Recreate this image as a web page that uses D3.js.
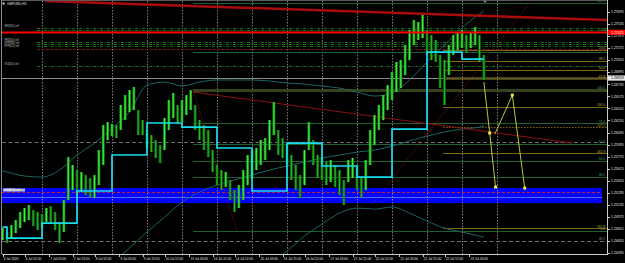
<!DOCTYPE html>
<html lang="en">
<head>
<meta charset="UTF-8">
<title>GBPUSD,H1</title>
<script src="https://d3js.org/d3.v7.min.js"></script>
<style>
  html, body { margin: 0; padding: 0; background: #000; }
  svg { display: block; }
  text { font-family: "Liberation Sans", Arial, sans-serif; }
</style>
</head>
<body>
<div id="chart"></div>
<script>
// ---------------- data ----------------
const symbol = "GBPUSD,H1";

// 3-hour bars; hour 0 = 6 Jul 00:00, weekends removed
const barStartHour = -3, barHours = 3;
const barHigh = [
  1.24826,1.24773,1.24866,1.24932,1.25039,1.25092,1.25132,1.25065,1.25039,1.25012,
  1.25092,1.25118,1.25039,1.24906,1.25198,1.25769,1.25663,1.25596,1.25570,1.25530,
  1.25490,1.25530,1.25862,1.26194,1.26234,1.26207,1.26194,1.26460,1.26592,1.26659,
  1.26699,1.26393,1.26260,1.26128,1.26061,1.25995,1.25928,1.26287,1.26526,1.26619,
  1.26460,1.26526,1.26592,1.26659,1.26460,1.26260,1.26194,1.26128,1.25862,1.25663,
  1.25596,1.25570,1.25464,1.25331,1.25397,1.25596,1.25796,1.25862,1.25889,1.25995,
  1.26021,1.26260,1.26499,1.26128,1.26021,1.25928,1.25796,1.25663,1.25530,1.25862,
  1.26234,1.25995,1.25796,1.25756,1.25703,1.25729,1.25663,1.25596,1.25464,1.25729,
  1.25756,1.25663,1.25490,1.25729,1.26128,1.26327,1.26460,1.26592,1.26725,1.26898,
  1.27031,1.27057,1.27256,1.27456,1.27588,1.27562,1.27655,1.27456,1.27389,1.27323,
  1.27124,1.27057,1.27256,1.27389,1.27416,1.27456,1.27389,1.27429,1.27495,1.27389,
  1.27124];
const barLow = [
  1.24667,1.24627,1.24693,1.24760,1.24826,1.24906,1.24932,1.24853,1.24800,1.24826,
  1.24906,1.24879,1.24800,1.24627,1.24773,1.25198,1.25331,1.25264,1.25304,1.25264,
  1.25238,1.25225,1.25397,1.25663,1.25995,1.26048,1.26021,1.26128,1.26260,1.26367,
  1.26393,1.26061,1.26061,1.25889,1.25835,1.25756,1.25689,1.25862,1.26128,1.26287,
  1.26207,1.26234,1.26327,1.26393,1.26128,1.25995,1.25862,1.25769,1.25570,1.25397,
  1.25331,1.25371,1.25198,1.25039,1.25092,1.25198,1.25397,1.25490,1.25596,1.25663,
  1.25729,1.25862,1.26061,1.25796,1.25756,1.25663,1.25464,1.25331,1.25225,1.25397,
  1.25862,1.25663,1.25490,1.25464,1.25397,1.25437,1.25371,1.25264,1.25132,1.25437,
  1.25490,1.25331,1.25238,1.25331,1.25663,1.25928,1.26128,1.26260,1.26393,1.26526,
  1.26632,1.26685,1.26858,1.27057,1.27256,1.27323,1.27349,1.27124,1.27057,1.27031,
  1.26685,1.26460,1.26858,1.27124,1.27190,1.27217,1.27163,1.27217,1.27256,1.27031,
  1.26792];

// daily step line (cyan)
const stepHours  = [-3, 0, 24, 48, 72, 96, 120, 144, 168, 192, 216, 240, 264, 288, 312, 327];
const stepLevels = [1.24839, 1.24693, 1.24893, 1.25318, 1.25796, 1.26221, 1.26167, 1.25889,
                    1.25318, 1.25955, 1.25650, 1.25503, 1.26141, 1.27163, 1.27070, 1.27070];

// envelope bands (teal)
const bandHours  = [-3, 0, 12, 24, 36, 48, 60, 72, 84, 96, 108, 120, 132, 144, 156, 168,
                    180, 192, 204, 216, 228, 240, 252, 264, 276, 288, 300, 312, 324, 327];
const bandUpper  = [1.25583, 1.25570, 1.25517, 1.25503, 1.25596, 1.25796, 1.25955, 1.26154,
                    1.26367, 1.26725, 1.26765, 1.26712, 1.26765, 1.26792, 1.26792, 1.26792,
                    1.26778, 1.26752, 1.26738, 1.26712, 1.26685, 1.26632, 1.26579, 1.26619,
                    1.26792, 1.27031, 1.27256, 1.27482, 1.27668, 1.27708];
const bandMiddle = [null, null, null, null, null, null, null, 1.24361,
                    1.24561, 1.24773, 1.24972, 1.25171, 1.25304, 1.25397, 1.25464, 1.25530,
                    1.25596, 1.25650, 1.25703, 1.25756, 1.25796, 1.25835, 1.25862, 1.25915,
                    1.25982, 1.26048, 1.26101, 1.26141, 1.26167, 1.26181];
const bandLower  = [null, null, null, null, null, null, null, null,
                    null, null, null, null, null, null, null, null,
                    1.24361, 1.24521, 1.24720, 1.24879, 1.25025, 1.25092, 1.25078, 1.25105,
                    1.25025, 1.24919, 1.24826, 1.24773, 1.24720, 1.24707];

// horizontal levels
const redLevel = 1.27425;
const bidLevel = 1.26818;
const pivotLevels = [1.27482, 1.27456, 1.27296, 1.27270, 1.27243, 1.26978];
const pivotNames  = ["#R2(D1) ref", "", "#R1(D1) ref", "#PP(W1) ref", "#PP(D1) ref", "#S1(D1) ref"];
const pivotStartHour = 20.6;
const dashRedLevel = 1.27203;
const grayLevels = [1.25968, 1.24654];
const zoneTop = 1.25357, zoneBottom = 1.25158, zoneMid = 1.25238, zoneDash = 1.25304;
const zoneName = "#S2(D1) ref";
const zoneEndHour = 408;

// fibonacci (gold) from swing high to swing low
const fibGoldHigh = 1.27429, fibGoldLow = 1.26433, fibGoldStart = 299;
const fibGoldLevels = [0, 23.6, 38.2, 50, 61.8, 100, 127.2, 161.8, 261.8];
// fibonacci (green)
const fibGreenLow = 1.24786, fibGreenHigh = 1.26659, fibGreenStart = 127.5;
const fibGreenLevels = [0, 38.2, 50, 61.8, 76.4, 100, 127.2, 161.8];
const fibGreenLabelled = [0, 38.2, 50, 61.8, 76.4, 100, 161.8];

// trend lines [hour, price]
const topRedLine   = [[26, 1.27841], [411.4, 1.27588]];
const downTrend    = [[127.5, 1.26632], [387.4, 1.25955]];
const greenFibDiag = [[127.5, 1.26659], [157.7, 1.24786]];
const upDotted     = [[250.3, 1.25132], [360, 1.27854]];

// projected path (yellow)
const projA = [[327, 1.26765], [331, 1.26088], [335, 1.25371]];
const projB = [[334.5, 1.26074], [346.5, 1.26592], [355, 1.25357]];

// axes
const priceTicks = [1.27695, 1.27535, 1.27375, 1.27215, 1.27055, 1.26895, 1.26735,
                    1.26575, 1.26415, 1.26255, 1.26095, 1.25935, 1.25775, 1.25615,
                    1.25455, 1.25295, 1.25135, 1.24975, 1.24815, 1.24655, 1.24495];
const timeLabels = ["3 Jul 2020", "6 Jul 12:00", "7 Jul 05:00", "7 Jul 21:00", "8 Jul 12:00",
                    "9 Jul 05:00", "9 Jul 21:00", "10 Jul 12:00", "13 Jul 05:00", "13 Jul 21:00",
                    "14 Jul 12:00", "15 Jul 05:00", "15 Jul 21:00", "16 Jul 12:00", "17 Jul 05:00",
                    "17 Jul 21:00", "20 Jul 12:00", "21 Jul 05:00", "21 Jul 21:00", "22 Jul 12:00",
                    "23 Jul 05:00"];
const timeLabelHours = [-3, 12, 29, 45, 60, 77, 93, 108, 125, 141, 156, 173, 189, 204,
                        221, 237, 252, 269, 285, 300, 317];
const dayLines = [24, 48, 72, 96, 120, 144, 168, 192, 216, 240, 264, 288, 312, 336];

// ---------------- drawing ----------------
const W = 625, H = 263;
const plot = { left: 2, right: 607, top: 1, bottom: 254 };

const x = d3.scaleLinear().domain([0, 24]).range([7, 42]);
const y = d3.scaleLinear().domain([1.24495, 1.27695]).range([253, 12]);
const px = v => Math.round(v) + 0.5;

const svg = d3.select("#chart").append("svg")
  .attr("width", W).attr("height", H);

svg.append("rect").attr("width", W).attr("height", H).attr("fill", "#000");

svg.append("clipPath").attr("id", "plotClip")
  .append("rect")
  .attr("x", plot.left).attr("y", plot.top)
  .attr("width", plot.right - plot.left).attr("height", plot.bottom - plot.top);

const g = svg.append("g").attr("clip-path", "url(#plotClip)");

const hline = (sel, price, x0, x1, color, width, dash) => sel.append("line")
  .attr("x1", x0).attr("x2", x1)
  .attr("y1", px(y(price))).attr("y2", px(y(price)))
  .attr("stroke", color).attr("stroke-width", width || 1)
  .attr("stroke-dasharray", dash || null);

const seg = d3.line().x(d => x(d[0])).y(d => y(d[1]));

// zone rectangle (background object)
g.append("rect")
  .attr("x", plot.left).attr("width", x(zoneEndHour) - plot.left)
  .attr("y", y(zoneTop)).attr("height", y(zoneBottom) - y(zoneTop))
  .attr("fill", "#0000ff");
g.append("line")
  .attr("x1", plot.left).attr("x2", x(zoneEndHour))
  .attr("y1", px(y(zoneMid))).attr("y2", px(y(zoneMid)))
  .attr("stroke", "#4d6bff").attr("stroke-width", 1);

// vertical day grid
g.selectAll(".vgrid").data(dayLines).join("line").attr("class", "vgrid")
  .attr("x1", d => px(x(d))).attr("x2", d => px(x(d)))
  .attr("y1", plot.top).attr("y2", plot.bottom)
  .attr("stroke", "#9a9a9a").attr("stroke-width", 0.8).attr("stroke-dasharray", "1.5,1.5");

// gray dashed levels + bid line
grayLevels.forEach(p => hline(g, p, plot.left, plot.right, "#707070", 1, "4,2.5"));
hline(g, bidLevel, plot.left, plot.right, "#8c8c8c", 1);

// green fibonacci levels
fibGreenLevels.forEach(l => {
  const p = fibGreenLow + (fibGreenHigh - fibGreenLow) * l / 100;
  if (l === 100) hline(g, p, x(fibGreenStart), plot.right, "#34421f", 3);
  else hline(g, p, x(fibGreenStart), plot.right, "#1f5f31", 1);
});

// gold fibonacci levels
fibGoldLevels.forEach(l => {
  const p = fibGoldHigh - (fibGoldHigh - fibGoldLow) * l / 100;
  hline(g, p, x(fibGoldStart), plot.right, l === 61.8 ? "#5f5820" : "#7d6812",
        l === 61.8 ? 2.5 : 1, l === 127.2 ? "1.5,1.5" : null);
});

// pivot dash-dot lines
pivotLevels.forEach(p => hline(g, p, x(pivotStartHour), plot.right, "#1d701d", 1, "3,1.5,1,1.5"));
hline(g, dashRedLevel, x(pivotStartHour), plot.right, "#7a1515", 1, "3,1.5");
hline(g, zoneDash, plot.left, x(zoneEndHour), "#c82626", 1, "3,2");

// teal bands
[bandUpper, bandMiddle, bandLower].forEach(vals => {
  const pts = bandHours.map((h, i) => [h, vals[i]]);
  g.append("path")
    .attr("d", d3.line().defined(d => d[1] !== null)
      .x(d => x(d[0])).y(d => y(d[1])).curve(d3.curveMonotoneX)(pts))
    .attr("fill", "none").attr("stroke", "#1b6664").attr("stroke-width", 1);
});

// trend lines
g.append("path").attr("d", seg(topRedLine)).attr("fill", "none")
  .attr("stroke", "#a80c0c").attr("stroke-width", 2.5);
g.append("path").attr("d", seg(downTrend)).attr("fill", "none")
  .attr("stroke", "#8b1010").attr("stroke-width", 1);
g.append("path").attr("d", seg(greenFibDiag)).attr("fill", "none")
  .attr("stroke", "#b01818").attr("stroke-width", 0.8).attr("stroke-dasharray", "1,1.5");
g.append("path").attr("d", seg(upDotted)).attr("fill", "none")
  .attr("stroke", "#b01818").attr("stroke-width", 0.8).attr("stroke-dasharray", "1,1.5");

// candles
const bars = barHigh.map((h, i) => ({
  hour: barStartHour + i * barHours, high: h, low: barLow[i],
  up: i === 0 || (h + barLow[i]) >= (barHigh[i - 1] + barLow[i - 1])
}));
const bw = (x(barHours) - x(0)) * 0.62;
g.selectAll(".body").data(bars).join("rect").attr("class", "body")
  .attr("x", d => x(d.hour) - bw / 2).attr("width", bw)
  .attr("y", d => y(d.high)).attr("height", d => Math.max(1, y(d.low) - y(d.high)))
  .attr("fill", d => d.up ? "#119b11" : "#0a6c0a");
g.selectAll(".wick").data(bars).join("line").attr("class", "wick")
  .attr("x1", d => x(d.hour)).attr("x2", d => x(d.hour))
  .attr("y1", d => y(d.high)).attr("y2", d => y(d.low))
  .attr("stroke", d => d.up ? "#55f055" : "#2fc02f").attr("stroke-width", 0.9);

// cyan step line
g.append("path")
  .attr("d", d3.line().x(d => x(d[0])).y(d => y(d[1])).curve(d3.curveStepAfter)(
    stepHours.map((h, i) => [h, stepLevels[i]])))
  .attr("fill", "none").attr("stroke", "#19dcf0").attr("stroke-width", 1.7);

// red horizontal level
hline(g, redLevel, plot.left, plot.right, "#ff0000", 2);

// projected path
[projA, projB].forEach(p => {
  g.append("path").attr("d", seg(p)).attr("fill", "none")
    .attr("stroke", "#d8d83a").attr("stroke-width", 0.9);
  g.selectAll(null).data(p.slice(1)).join("rect")
    .attr("x", d => x(d[0]) - 1.5).attr("y", d => y(d[1]) - 1.5)
    .attr("width", 3).attr("height", 3).attr("fill", "#e8e840");
});

// level labels (right edge of plot)
const lab = (txt, price, color) => svg.append("text")
  .attr("x", 605).attr("y", y(price) - 0.8)
  .attr("text-anchor", "end").attr("font-size", 3.2).attr("fill", color).text(txt);
fibGoldLevels.forEach(l => lab(l.toFixed(1), fibGoldHigh - (fibGoldHigh - fibGoldLow) * l / 100, "#c9a82a"));
fibGreenLabelled.forEach(l => lab(l.toFixed(1), fibGreenLow + (fibGreenHigh - fibGreenLow) * l / 100, "#3fae5a"));
lab("38.2", grayLevels[1], "#8c8c8c");

// left object names, stacked so they do not collide
let lastY = -10;
pivotLevels.forEach((p, i) => {
  if (!pivotNames[i]) return;
  const ty = Math.max(y(p) - 0.6, lastY + 2.9);
  lastY = ty;
  svg.append("text").attr("x", 4).attr("y", ty)
    .attr("font-size", 2.8).attr("fill", "#c8c8c8").text(pivotNames[i]);
});
svg.append("rect").attr("x", 3).attr("y", y(zoneTop) + 0.5).attr("width", 22).attr("height", 3)
  .attr("fill", "#b8b8c8");
svg.append("text").attr("x", 4).attr("y", y(zoneTop) + 3)
  .attr("font-size", 3).attr("fill", "#ffffff").text(zoneName);

// chart title
svg.append("rect").attr("x", 2.5).attr("y", 2.5).attr("width", 2).attr("height", 2).attr("fill", "#ddd");
svg.append("text").attr("x", 7).attr("y", 5.3)
  .attr("font-size", 3.4).attr("fill", "#e0e0e0").text(symbol);

// shift marker
svg.append("path").attr("d", "M483,0.5 L487,0.5 L485,3 Z").attr("fill", "#9a9a9a");

// frame
svg.append("line").attr("x1", 1.5).attr("x2", 1.5).attr("y1", 0).attr("y2", plot.bottom)
  .attr("stroke", "#8a8a8a");
svg.append("line").attr("x1", plot.left).attr("x2", plot.right).attr("y1", 0.5).attr("y2", 0.5)
  .attr("stroke", "#5a5a5a");

// price axis
const ax = svg.append("g");
ax.append("line").attr("x1", 607.5).attr("x2", 607.5).attr("y1", 0).attr("y2", plot.bottom + 1)
  .attr("stroke", "#c8c8c8");
ax.selectAll(".ptick").data(priceTicks).join("line").attr("class", "ptick")
  .attr("x1", 607.5).attr("x2", 610).attr("y1", d => px(y(d))).attr("y2", d => px(y(d)))
  .attr("stroke", "#c8c8c8");
ax.selectAll(".plab").data(priceTicks).join("text").attr("class", "plab")
  .attr("x", 611).attr("y", d => y(d) + 1.2)
  .attr("font-size", 3.5).attr("fill", "#e6e6e6").text(d => d.toFixed(5));

// current price boxes
[[redLevel, "#ff0000", "#ffffff"], [bidLevel, "#e8e8e8", "#000000"]].forEach(([p, bg, fg]) => {
  ax.append("rect").attr("x", 608).attr("y", y(p) - 2.6).attr("width", 17).attr("height", 5.2)
    .attr("fill", bg);
  ax.append("text").attr("x", 611).attr("y", y(p) + 1.2)
    .attr("font-size", 3.5).attr("fill", fg).text(p.toFixed(5));
});

// time axis
ax.append("line").attr("x1", plot.left).attr("x2", 608).attr("y1", plot.bottom + 0.5)
  .attr("y2", plot.bottom + 0.5).attr("stroke", "#c8c8c8");
ax.selectAll(".ttick").data(timeLabelHours).join("line").attr("class", "ttick")
  .attr("x1", d => px(x(d))).attr("x2", d => px(x(d)))
  .attr("y1", plot.bottom).attr("y2", plot.bottom + 3)
  .attr("stroke", "#c8c8c8");
ax.selectAll(".tlab").data(timeLabels).join("text").attr("class", "tlab")
  .attr("x", (d, i) => x(timeLabelHours[i]) + 1.2).attr("y", 259.5)
  .attr("font-size", 3.2).attr("fill", "#e6e6e6").text(d => d);
</script>
</body>
</html>
